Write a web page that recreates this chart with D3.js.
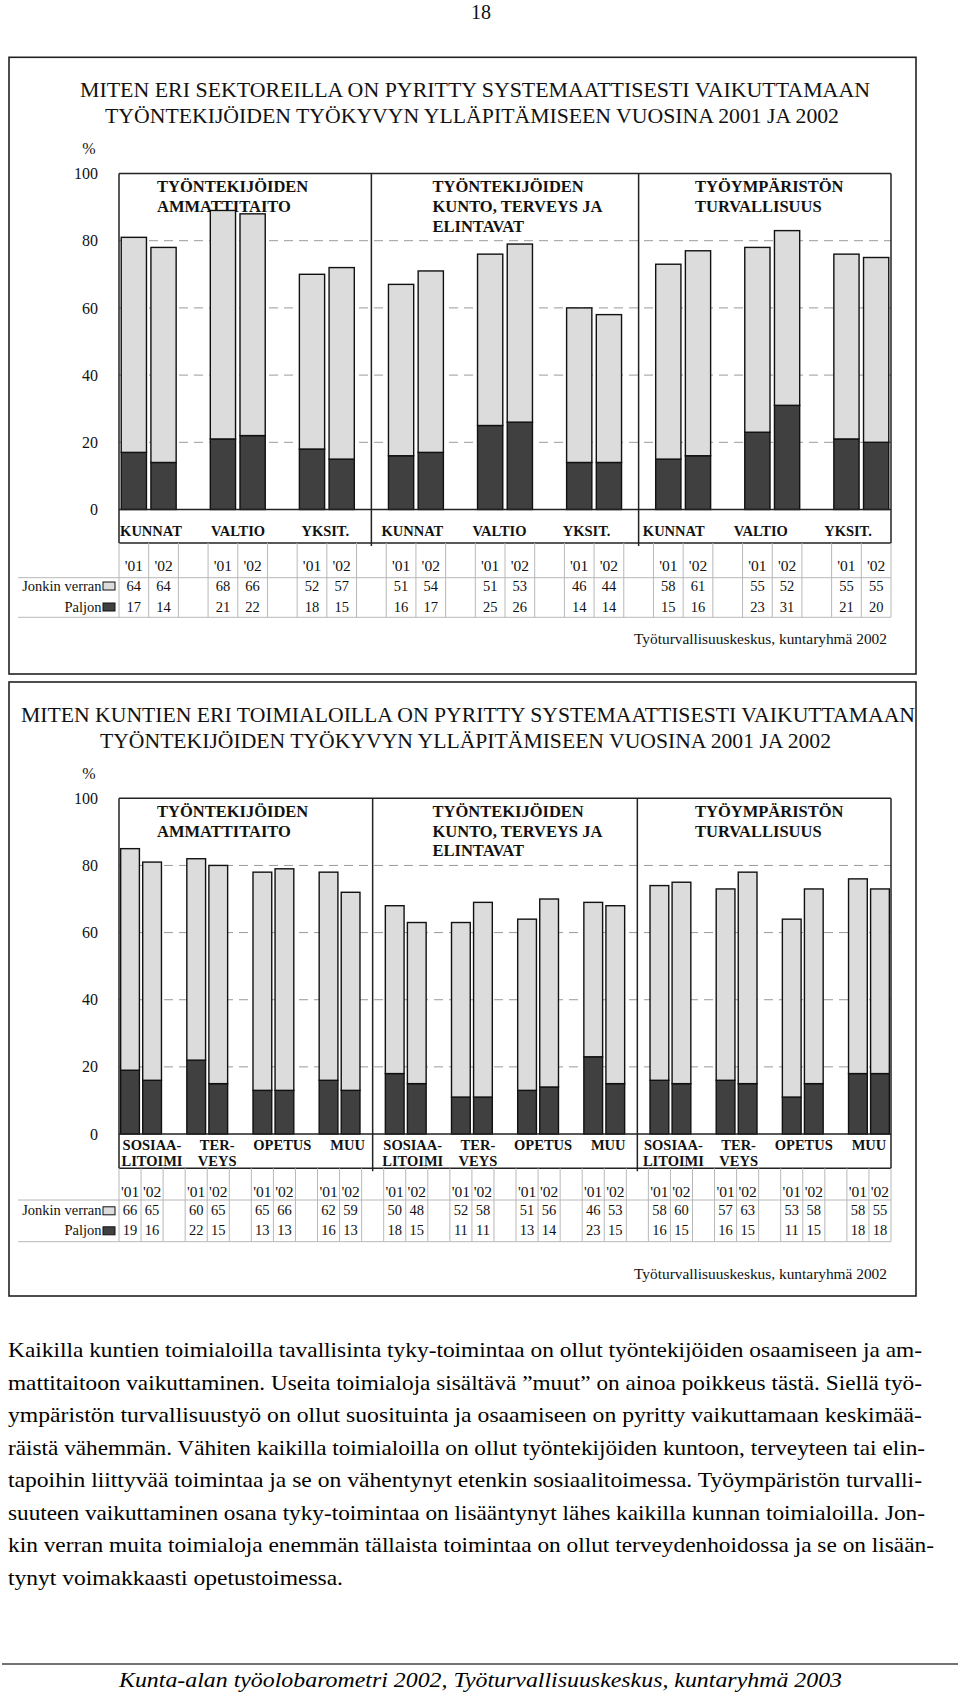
<!DOCTYPE html>
<html><head><meta charset="utf-8">
<script src="https://cdn.jsdelivr.net/npm/d3@7"></script>
<style>body{margin:0;background:#fff} svg{display:block}</style>
</head><body><svg id="page" width="960" height="1696"></svg>
<script>
// ---------------- DATA ----------------
const years = ["'01", "'02"];
const legendLabels = ["Jonkin verran", "Paljon"];
const panelTitles = [
  ["TYÖNTEKIJÖIDEN", "AMMATTITAITO"],
  ["TYÖNTEKIJÖIDEN", "KUNTO, TERVEYS JA", "ELINTAVAT"],
  ["TYÖYMPÄRISTÖN", "TURVALLISUUS"]
];
const yTicks = [0, 20, 40, 60, 80, 100];
const gridTicks = [20, 40, 60, 80];

// Chart 1: sectors
const sectors = [["KUNNAT"], ["VALTIO"], ["YKSIT."]];
const sectorJonkin = [64, 64, 68, 66, 52, 57, 51, 54, 51, 53, 46, 44, 58, 61, 55, 52, 55, 55];
const sectorPaljon = [17, 14, 21, 22, 18, 15, 16, 17, 25, 26, 14, 14, 15, 16, 23, 31, 21, 20];

// Chart 2: municipal branches
const branches = [["SOSIAA-", "LITOIMI"], ["TER-", "VEYS"], ["OPETUS"], ["MUU"]];
const branchJonkin = [66, 65, 60, 65, 65, 66, 62, 59, 50, 48, 52, 58, 51, 56, 46, 53, 58, 60, 57, 63, 53, 58, 58, 55];
const branchPaljon = [19, 16, 22, 15, 13, 13, 16, 13, 18, 15, 11, 11, 13, 14, 23, 15, 16, 15, 16, 15, 11, 15, 18, 18];

const title1 = ["MITEN ERI SEKTOREILLA ON PYRITTY SYSTEMAATTISESTI VAIKUTTAMAAN",
                "TYÖNTEKIJÖIDEN  TYÖKYVYN YLLÄPITÄMISEEN VUOSINA 2001 JA 2002"];
const title2 = ["MITEN KUNTIEN ERI TOIMIALOILLA ON PYRITTY SYSTEMAATTISESTI VAIKUTTAMAAN",
                "TYÖNTEKIJÖIDEN  TYÖKYVYN YLLÄPITÄMISEEN VUOSINA 2001 JA 2002"];
const sourceText = "Työturvallisuuskeskus, kuntaryhmä 2002";
const paragraph = [
  "Kaikilla kuntien toimialoilla tavallisinta tyky-toimintaa on ollut työntekijöiden osaamiseen ja am-",
  "mattitaitoon vaikuttaminen. Useita toimialoja sisältävä ”muut” on ainoa poikkeus tästä. Siellä työ-",
  "ympäristön turvallisuustyö on ollut suosituinta ja osaamiseen on pyritty vaikuttamaan keskimää-",
  "räistä vähemmän. Vähiten kaikilla toimialoilla on ollut työntekijöiden kuntoon, terveyteen tai elin-",
  "tapoihin liittyvää toimintaa ja se on vähentynyt etenkin sosiaalitoimessa. Työympäristön turvalli-",
  "suuteen vaikuttaminen osana tyky-toimintaa on lisääntynyt lähes kaikilla kunnan toimialoilla. Jon-",
  "kin verran muita toimialoja enemmän tällaista toimintaa on ollut terveydenhoidossa ja se on lisään-",
  "tynyt voimakkaasti opetustoimessa."
];
const footerText = "Kunta-alan työolobarometri 2002, Työturvallisuuskeskus, kuntaryhmä 2003";
const pageNumber = "18";

// ---------------- LAYOUT ----------------
const FONT = "'Liberation Serif', 'Times New Roman', serif";
const LIGHT = "#dcdcdc", DARK = "#404040";
const svg = d3.select("#page");
svg.append("rect").attr("width", 960).attr("height", 1696).attr("fill", "#fff");

function txt(g, s, x, y, o = {}) {
  const t = g.append("text").attr("x", x).attr("y", y).text(s)
    .attr("font-family", FONT).attr("font-size", o.size || 16)
    .attr("fill", o.fill || "#111")
    .attr("text-anchor", o.anchor || "start");
  if (o.weight) t.attr("font-weight", o.weight);
  if (o.style) t.attr("font-style", o.style);
  if (o.len) t.attr("textLength", o.len).attr("lengthAdjust", "spacingAndGlyphs");
  return t;
}

function drawChart(cfg) {
  const g = svg.append("g");
  // outer frame
  g.append("rect").attr("x", 9).attr("y", cfg.boxTop).attr("width", 907)
    .attr("height", cfg.boxBottom - cfg.boxTop).attr("fill", "none")
    .attr("stroke", "#222").attr("stroke-width", 1.6);

  // titles
  cfg.title.forEach((s, i) => txt(g, s, cfg.titleX[i], cfg.titleY[i], {size: 21.5, len: cfg.titleLen[i]}));

  const L = 119, R = 891;
  const nCats = cfg.cats.length, nPanels = panelTitles.length;
  const nCols = nPanels * nCats * 3 - 1;
  const x = d3.scaleBand().domain(d3.range(nCols)).range([L, R])
    .paddingInner(0.15).paddingOuter(0.075);
  const step = x.step();
  const colStart = i => x(i) - x.paddingOuter() * step;
  const y = d3.scaleLinear().domain([0, 100]).range([cfg.plotBottom, cfg.plotTop]);

  // column records
  const cols = [];
  let k = 0;
  for (let p = 0; p < nPanels; p++)
    for (let c = 0; c < nCats; c++)
      years.forEach((yr, yi) => {
        cols.push({idx: (p * nCats + c) * 3 + yi, year: yr, paljon: cfg.paljon[k], jonkin: cfg.jonkin[k]});
        k++;
      });

  // % label and y axis
  txt(g, "%", 89, cfg.percentY, {size: 16, anchor: "middle"});
  const ax = g.append("g").attr("transform", `translate(${L},0)`)
    .call(d3.axisLeft(y).tickValues(yTicks).tickSize(0).tickPadding(21).tickFormat(d3.format("d")));
  ax.select(".domain").remove();
  ax.selectAll("text").attr("font-family", FONT).attr("font-size", 16).attr("fill", "#111");

  // gridlines
  g.append("g").selectAll("line").data(gridTicks).join("line")
    .attr("x1", L).attr("x2", R).attr("y1", d => y(d)).attr("y2", d => y(d))
    .attr("stroke", "#9a9a9a").attr("stroke-width", 1).attr("stroke-dasharray", "9,6");

  // panel headings
  panelTitles.forEach((lines, p) => {
    lines.forEach((s, li) => txt(g, s, cfg.headX[p], cfg.plotTop + 18.5 + li * 19.8, {size: 16.5, weight: "bold"}));
  });

  // stacked bars
  const stack = d3.stack().keys(["paljon", "jonkin"]);
  const series = stack(cols);
  const fills = {paljon: DARK, jonkin: LIGHT};
  g.append("g").selectAll("g").data(series).join("g")
    .attr("fill", d => fills[d.key])
    .selectAll("rect").data(d => d).join("rect")
    .attr("x", d => x(d.data.idx)).attr("width", x.bandwidth())
    .attr("y", d => y(d[1])).attr("height", d => y(d[0]) - y(d[1]))
    .attr("stroke", "#111").attr("stroke-width", 1.4);

  // plot frame and label box
  const fr = g.append("g").attr("stroke", "#222").attr("stroke-width", 1.5).attr("fill", "none");
  fr.append("line").attr("x1", L).attr("x2", R).attr("y1", y(100)).attr("y2", y(100));
  fr.append("line").attr("x1", L).attr("x2", R).attr("y1", y(0)).attr("y2", y(0));
  fr.append("line").attr("x1", L).attr("x2", R).attr("y1", cfg.labelBoxBottom).attr("y2", cfg.labelBoxBottom);
  fr.append("line").attr("x1", L).attr("x2", L).attr("y1", y(100)).attr("y2", cfg.labelBoxBottom);
  fr.append("line").attr("x1", R).attr("x2", R).attr("y1", y(100)).attr("y2", cfg.labelBoxBottom);
  for (let p = 1; p < nPanels; p++) {
    const dx = colStart(p * nCats * 3 - 1) + step / 2;
    fr.append("line").attr("x1", dx).attr("x2", dx).attr("y1", y(100)).attr("y2", cfg.labelBoxBottom + 3);
  }

  // category labels
  const lp = d3.scalePoint().domain(d3.range(nPanels * nCats)).range(cfg.labelRange);
  for (let p = 0; p < nPanels; p++)
    cfg.cats.forEach((lines, c) => {
      lines.forEach((s, li) => txt(g, s, lp(p * nCats + c), cfg.labelBase + li * 16, {size: 14.5, weight: "bold", anchor: "middle"}));
    });

  // data table
  const tg = g.append("g");
  const tl = tg.append("g").attr("stroke", "#b8b8b8").attr("stroke-width", 1);
  for (let i = 0; i <= nCols; i++) {
    const cx = i < nCols ? colStart(i) : R;
    tl.append("line").attr("x1", cx).attr("x2", cx).attr("y1", cfg.labelBoxBottom).attr("y2", cfg.tableBottom);
  }
  tl.append("line").attr("x1", 18).attr("x2", R).attr("y1", cfg.tableHeadLine).attr("y2", cfg.tableHeadLine);
  tl.append("line").attr("x1", 18).attr("x2", R).attr("y1", cfg.tableBottom).attr("y2", cfg.tableBottom);

  cols.forEach(d => {
    const cx = colStart(d.idx) + step / 2;
    txt(tg, d.year, cx, cfg.headBase, {size: 15.5, anchor: "middle"});
    txt(tg, String(d.jonkin), cx, cfg.rowBase[0], {size: 14.5, anchor: "middle"});
    txt(tg, String(d.paljon), cx, cfg.rowBase[1], {size: 14.5, anchor: "middle"});
  });
  legendLabels.forEach((s, i) => {
    txt(tg, s, 101.5, cfg.rowBase[i], {size: 14.5, anchor: "end"});
    tg.append("rect").attr("x", 103).attr("y", cfg.rowBase[i] - 8.5).attr("width", 12).attr("height", 8)
      .attr("fill", i === 0 ? LIGHT : DARK).attr("stroke", "#111").attr("stroke-width", 1);
  });

  // source
  txt(g, sourceText, 887, cfg.sourceBase, {size: 15, anchor: "end", len: 253});
}

drawChart({
  boxTop: 57.3, boxBottom: 674,
  title: title1, titleX: [80, 105], titleY: [97, 123], titleLen: [790, 734],
  plotTop: 173.5, plotBottom: 509.5, labelBoxBottom: 543, percentY: 153.5,
  headX: [157, 432.5, 695],
  cats: sectors, jonkin: sectorJonkin, paljon: sectorPaljon,
  labelRange: [151, 848], labelBase: 535.5,
  tableHeadLine: 577.7, tableBottom: 617.3, headBase: 570.5, rowBase: [590.5, 611.5],
  sourceBase: 643.5
});

drawChart({
  boxTop: 682, boxBottom: 1296,
  title: title2, titleX: [21, 100], titleY: [722, 748], titleLen: [894, 731],
  plotTop: 798.3, plotBottom: 1134, labelBoxBottom: 1168.3, percentY: 778.5,
  headX: [157, 432.5, 695],
  cats: branches, jonkin: branchJonkin, paljon: branchPaljon,
  labelRange: [152, 869], labelBase: 1150,
  tableHeadLine: 1200, tableBottom: 1241.7, headBase: 1196.5, rowBase: [1215.3, 1235.3],
  sourceBase: 1278.5
});

// page number
txt(svg, pageNumber, 481, 19, {size: 20, anchor: "middle"});

// paragraph
const paraEnds = [922, 922, 922, 925, 922, 925, 934, 343];
paragraph.forEach((s, i) => {
  txt(svg, s, 8, 1357 + i * 32.5, {size: 21, len: paraEnds[i] - 8, fill: "#000"});
});

// footer
svg.append("line").attr("x1", 2).attr("x2", 958).attr("y1", 1664).attr("y2", 1664)
  .attr("stroke", "#444").attr("stroke-width", 1.6);
txt(svg, footerText, 119, 1686.5, {size: 21, style: "italic", len: 723, fill: "#000"});
</script>
</body></html>
